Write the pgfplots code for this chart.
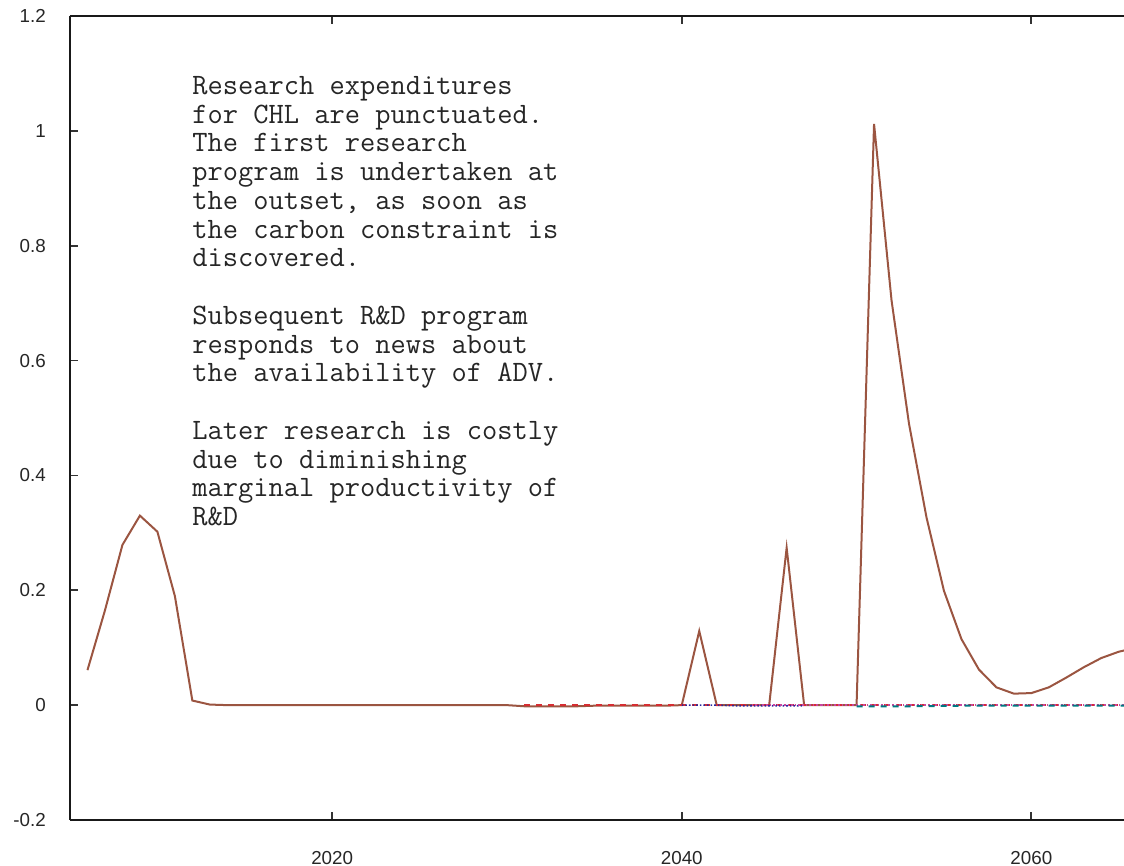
\documentclass[border=0pt]{standalone}
\usepackage{fontspec}
\setmainfont{Liberation Sans}
\usepackage{pgfplots}
\pgfplotsset{compat=1.18}
\definecolor{brn}{RGB}{155,85,65}
\definecolor{rd}{RGB}{214,45,50}
\definecolor{bl}{RGB}{40,40,160}
\definecolor{mg}{RGB}{200,70,160}
\definecolor{tl}{RGB}{0,120,130}
\begin{document}
\begin{tikzpicture}
\begin{axis}[
  scale only axis,
  width=527pt, height=402pt,
  xmin=2005, xmax=2065.3,
  ymin=-0.2, ymax=1.2,
  axis x line*=box,
  axis y line*=left,
  axis line style={-, line width=1pt, black!90},
  every outer y axis line/.append style={-},
  every inner y axis line/.append style={-},
  xtick={2020,2040,2060},
  ytick={-0.2,0,0.2,0.4,0.6,0.8,1,1.2},
  yticklabels={-0.2,0,0.2,0.4,0.6,0.8,1,1.2},
  tick align=inside,
  major tick length=4pt,
  tick style={line width=0.9pt, black!80},
  /pgf/number format/1000 sep={},
  /pgf/number format/assume math mode=true,
  ticklabel style={font=\fontsize{9.4}{11}\selectfont, text=black!85},
  yticklabel style={xshift=-8.6pt},
  xticklabel style={yshift=-12pt},
]
\addplot[brn, line width=1pt] coordinates {
(2006,0.061) (2007,0.165) (2008,0.279) (2009,0.330) (2010,0.302) (2011,0.190)
(2012,0.008) (2013,0.001) (2014,0) (2015,0) (2016,0) (2017,0) (2018,0) (2019,0)
(2020,0) (2021,0) (2022,0) (2023,0) (2024,0) (2025,0) (2026,0) (2027,0) (2028,0)
(2029,0) (2030,0) (2031,-0.002) (2032,-0.002) (2033,-0.002) (2034,-0.002)
(2035,-0.001) (2036,-0.001) (2037,-0.001) (2038,-0.001) (2039,-0.001) (2040,0)
(2041,0.129) (2042,0) (2043,0) (2044,0) (2045,0) (2046,0.274) (2047,0) (2048,0)
(2049,0) (2050,0) (2051,1.012) (2052,0.705) (2053,0.490) (2054,0.327)
(2055,0.199) (2056,0.115) (2057,0.062) (2058,0.031) (2059,0.020) (2060,0.021)
(2061,0.031) (2062,0.048) (2063,0.066) (2064,0.082) (2065,0.093) (2066,0.100)
};
\addplot[rd, line width=0.8pt, dashed] coordinates {
(2031,0) (2035,0) (2040,0) (2045,0) (2050,0) (2055,0) (2060,0) (2066,0)
};
\addplot[bl, line width=0.8pt, densely dotted] coordinates {
(2040,0) (2041,0) (2042,0) (2043,-0.001) (2045,-0.001) (2047,-0.001)
};
\addplot[mg, line width=0.8pt, densely dotted] coordinates {
(2044,0) (2048,0) (2052,0) (2056,0) (2060,0) (2066,0)
};
\addplot[tl, line width=1pt, dashed] coordinates {
(2050,-0.002) (2053,-0.002) (2056,-0.001) (2060,-0.001) (2066,-0.001)
};
\node[anchor=north west, inner sep=0pt, align=left,
      font=\ttfamily\fontsize{14.8}{14.37}\selectfont, text=black!85]
  at ([xshift=61pt,yshift=-30pt]rel axis cs:0,1)
  {Research expenditures\\for CHL are punctuated.\\The first research\\program is undertaken at\\the outset, as soon as\\the carbon constraint is\\discovered.\\[14.37pt]Subsequent R\&D program\\responds to news about\\the availability of ADV.\\[14.37pt]Later research is costly\\due to diminishing\\marginal productivity of\\R\&D};
\end{axis}
\pgfresetboundingbox
\path[use as bounding box] ([xshift=-35pt,yshift=-23pt]current axis.south west) rectangle ([yshift=8pt]current axis.north east);
\end{tikzpicture}
\end{document}
